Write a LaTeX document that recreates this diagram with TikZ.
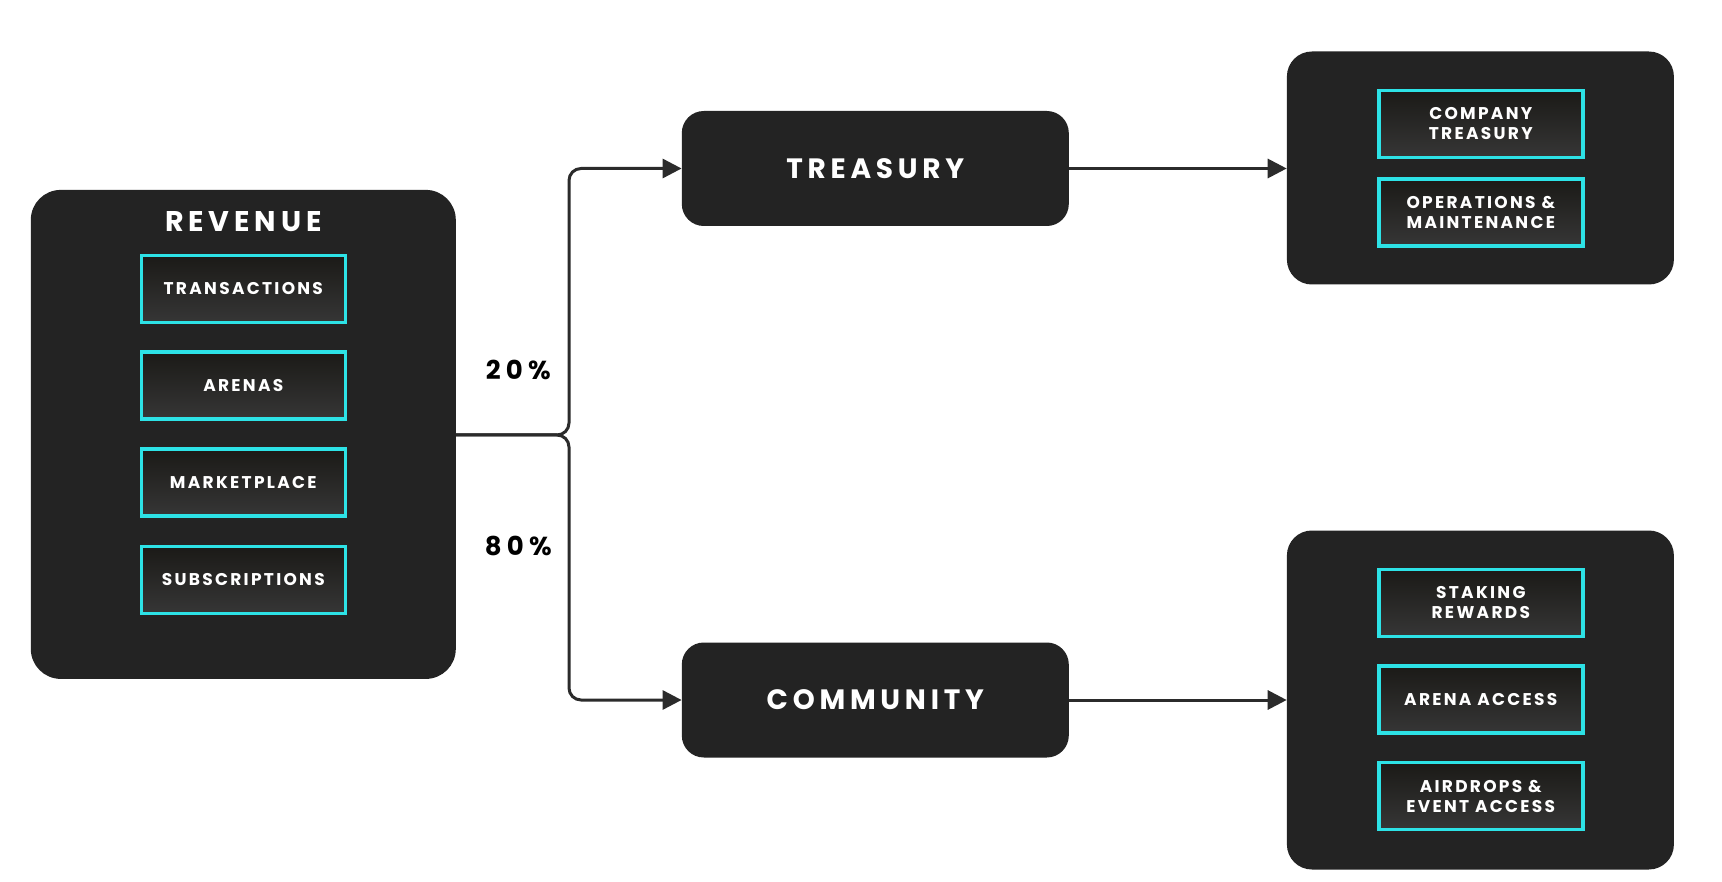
\documentclass[tikz,border=0pt]{standalone}
\usepackage{fontspec}
\setmainfont{Poppins}
\newfontfamily\popsp[LetterSpace=13.5]{Poppins}
\newfontfamily\popbig[LetterSpace=17]{Poppins}
\newfontfamily\poppct[LetterSpace=20]{Poppins}
\usetikzlibrary{arrows.meta}
\definecolor{boxdark}{HTML}{232323}
\definecolor{linedark}{HTML}{2B2B2B}
\definecolor{neon}{HTML}{2DE2E6}
\definecolor{gtop}{HTML}{1B1A17}
\definecolor{gbot}{HTML}{363636}
\tikzset{
  bigbox/.style={fill=boxdark, draw=none, rounded corners=30pt, inner sep=0pt},
  midbox/.style={fill=boxdark, draw=none, rounded corners=22pt, inner sep=0pt,
     minimum width=387pt, minimum height=115pt, text=white,
     font=\popbig\bfseries\fontsize{28}{30}\selectfont},
  item/.style={draw=neon, line width=3.5pt, top color=gtop, bottom color=gbot,
     minimum width=204pt, minimum height=67pt, inner sep=0pt, text=white,
     align=center, font=\popsp\bfseries\fontsize{17}{20}\selectfont},
  conn/.style={draw=linedark, line width=3pt, rounded corners=12pt,
     -{Triangle[length=19pt,width=19pt]}},
  pct/.style={text=black, font=\poppct\bfseries\fontsize{26}{28}\selectfont}
}
\begin{document}
\begin{tikzpicture}[x=1pt,y=-1pt]
\fill[white] (0,0) rectangle (1722,882);
\useasboundingbox (0,0) rectangle (1722,882);

% revenue
\node[bigbox, minimum width=425pt, minimum height=489pt] (rev) at (243.3,434.4) {};
\node[text=white, font=\popbig\bfseries\fontsize{28.5}{30}\selectfont] (revt) at (243.3,222) {REVENUE};
\node[item] (tr) at (243.3,289) {TRANSACTIONS};
\node[item] (ar) at (243.3,385.5) {ARENAS};
\node[item] (mk) at (243.3,482.7) {MARKETPLACE};
\node[item] (sb) at (243.3,580) {SUBSCRIPTIONS};

% middle
\node[midbox] (tre) at (875.3,168.5) {TREASURY};
\node[midbox] (com) at (875.3,700) {COMMUNITY};

% right top
\node[bigbox, rounded corners=25pt, minimum width=387pt, minimum height=233pt] (rt) at (1480.4,168) {};
\node[item] (ct) at (1480.8,124) {COMPANY\\TREASURY};
\node[item] (om) at (1480.8,212.5) {OPERATIONS \&\\MAINTENANCE};

% right bottom
\node[bigbox, rounded corners=25pt, minimum width=387pt, minimum height=339pt] (rb) at (1480.4,700) {};
\node[item] (sr) at (1480.8,603) {STAKING\\REWARDS};
\node[item] (aa) at (1480.8,699.5) {ARENA ACCESS};
\node[item] (ae) at (1480.8,796) {AIRDROPS \&\\EVENT ACCESS};

% percentages
\node[pct] (p20) at (518.3,370) {20\%};
\node[pct] (p80) at (518.3,546) {80\%};

% connectors
\coordinate (jx) at (569,435);
\draw[conn] (rev.east |- jx) -- (jx) |- (tre.west);
\draw[conn] (rev.east |- jx) -- (jx) |- (com.west);
\draw[conn] (tre.east) -- (rt.west |- tre.east);
\draw[conn] (com.east) -- (rb.west |- com.east);
\end{tikzpicture}
\end{document}
